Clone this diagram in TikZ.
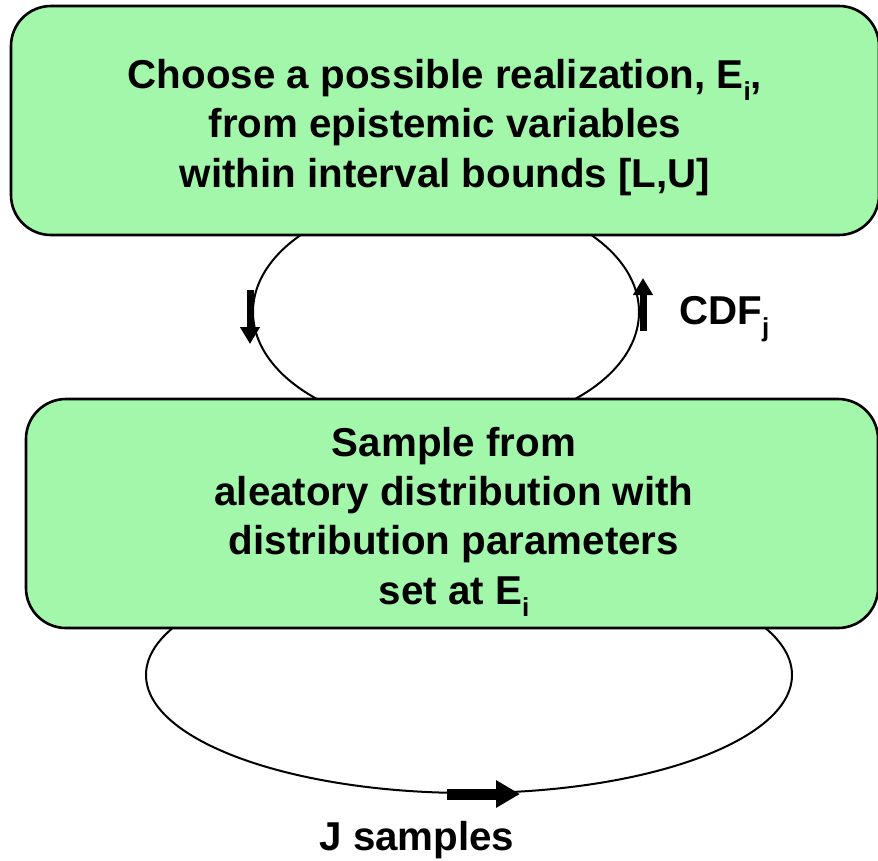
\documentclass[tikz,border=0pt]{standalone}
\usepackage{fontspec}
\setmainfont{Liberation Sans}
\usetikzlibrary{shapes.geometric,arrows.meta,calc}
\definecolor{boxgreen}{RGB}{163,247,170}
\newcommand\sbs[1]{\raisebox{-0.3em}{\fontsize{26}{26}\selectfont #1}}
\begin{document}
\begin{tikzpicture}[x=1pt,y=-1pt,
  box/.style={draw=black, line width=2.6pt, fill=boxgreen, rounded corners=40pt, inner sep=0pt},
  boxtext/.style={align=center, font=\fontsize{40.3}{49.3}\selectfont\bfseries, inner sep=0pt},
  loopline/.style={draw=black, line width=2pt, ellipse, inner sep=0pt},
  blockarrow/.style={line width=7pt, -{Triangle[length=17pt,width=19pt]}},
  bigarrow/.style={line width=11pt, -{Triangle[length=24pt,width=26pt]}},
  lbl/.style={font=\fontsize{40.3}{49}\selectfont\bfseries, inner sep=0pt}]
\useasboundingbox (0,0) rectangle (878,860);
\clip (0,0) rectangle (878,860);
% loops (behind the boxes)
\node[loopline, minimum width=386pt, minimum height=234pt] (loop1) at (446,312) {};
\node[loopline, minimum width=646pt, minimum height=236pt] (loop2) at (469,675) {};
% boxes
\node[box, minimum width=868pt, minimum height=229pt] (choose) at (445,120.5) {};
\node[boxtext] (choosetext) at ($(choose.center)+(0,7)$)
  {Choose a possible realization, E\sbs{i},\\from epistemic variables\\within interval bounds [L,U]};
\node[box, minimum width=852pt, minimum height=229pt] (sample) at (452,513.5) {};
\node[boxtext] (sampletext) at ($(sample.center)+(2,8)$)
  {Sample from\\aleatory distribution with\\distribution parameters\\set at E\sbs{i}};
% arrows on loops
\coordinate (a1s) at ($(loop1.west)+(-2,-22)$);
\coordinate (a1e) at ($(loop1.west)+(-2,32)$);
\coordinate (a2s) at ($(loop1.east)+(3,19)$);
\coordinate (a2e) at ($(loop1.east)+(3,-34)$);
\coordinate (a3s) at ($(loop2.south)+(-22,0)$);
\coordinate (a3e) at ($(loop2.south)+(51,0)$);
\draw[blockarrow] (a1s) -- (a1e);
\draw[blockarrow] (a2s) -- (a2e);
\draw[bigarrow] (a3s) -- (a3e);
% labels
\node[lbl, anchor=west] (cdf) at (679,319) {CDF\sbs{j}};
\node[lbl] (jsamp) at (417,840) {J samples};
\end{tikzpicture}
\end{document}
